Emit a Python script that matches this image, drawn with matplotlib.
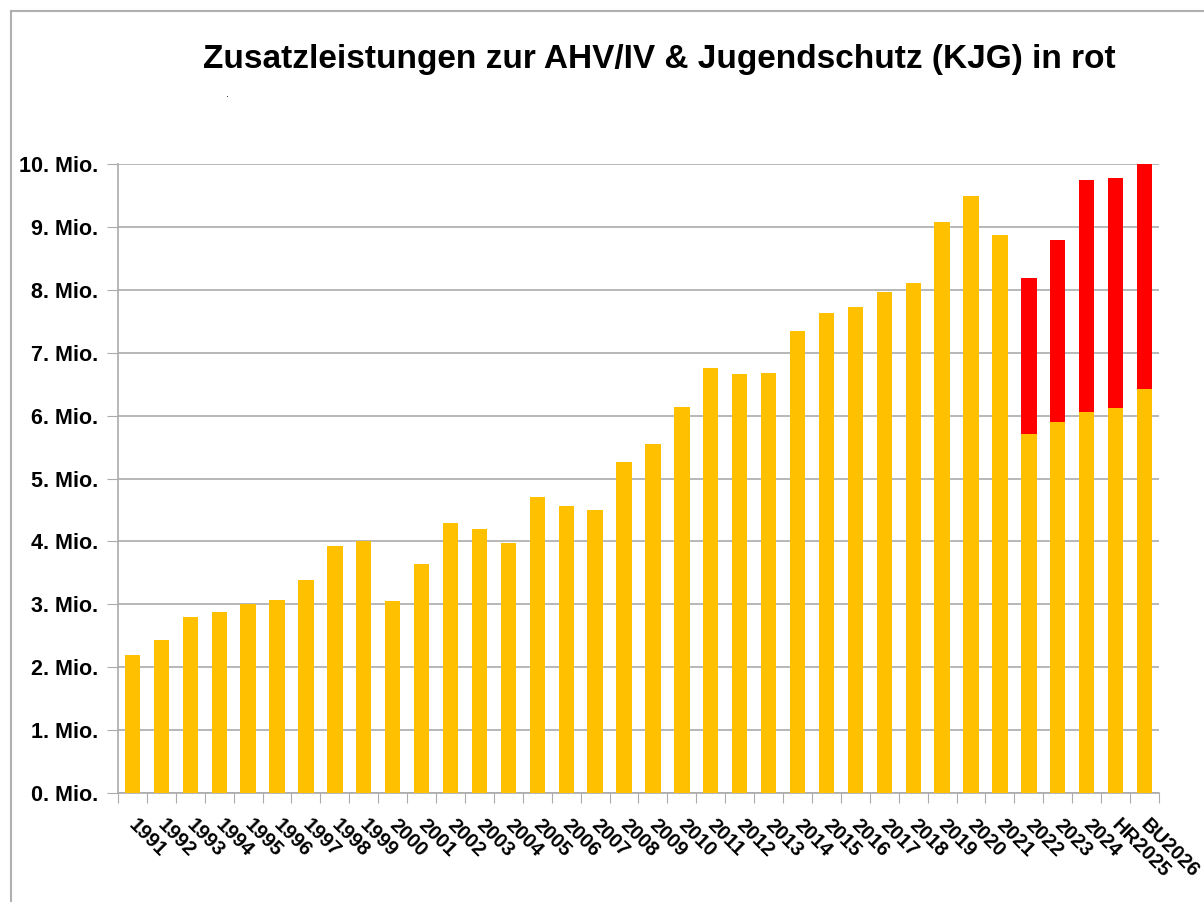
import matplotlib.pyplot as plt
from matplotlib.lines import Line2D
from matplotlib.transforms import ScaledTranslation

plt.rcParams["font.family"] = ["Liberation Sans", "DejaVu Sans"]

years = [str(y) for y in range(1991, 2025)] + ["HR2025", "BU2026"]
base = [2.19, 2.43, 2.80, 2.88, 3.00, 3.07, 3.39, 3.93, 4.01, 3.05,
        3.64, 4.29, 4.20, 3.97, 4.71, 4.56, 4.50, 5.26, 5.55, 6.14,
        6.76, 6.66, 6.68, 7.35, 7.63, 7.73, 7.97, 8.11, 9.08, 9.49,
        8.87, 5.71, 5.90, 6.06, 6.12, 6.42]
extra = [0] * 31 + [2.48, 2.89, 3.69, 3.66, 3.60]

ORANGE, RED = "#FFC000", "#FF0000"

fig = plt.figure(figsize=(12.04, 9.02), dpi=100)
ax = fig.add_axes([0.098, 0.1208, 0.8646, 0.6974])

x = list(range(len(years)))
ax.bar(x, base, width=0.53, color=ORANGE, zorder=3)
ax.bar(x, extra, bottom=base, width=0.53, color=RED, zorder=3)

ax.set_xlim(-0.5, len(years) - 0.5)
ax.set_ylim(0, 10)
ax.set_yticks(range(11))
ax.set_yticklabels([f"{i}. Mio." for i in range(11)], fontsize=15.5, fontweight="bold")
ax.yaxis.grid(True, color="#ABABAB", lw=1.2, zorder=0)
ax.tick_params(axis="y", length=8, color="#ABABAB", pad=6)

ax.set_xticks([i - 0.5 for i in range(len(years) + 1)])
ax.set_xticklabels([])
ax.set_xticks(x, minor=True)
ax.set_xticklabels(years, minor=True, rotation=-45, ha="left", va="top",
                   rotation_mode="anchor", fontsize=14.5, fontweight="bold")
ax.tick_params(axis="x", which="major", length=7, color="#ABABAB")
ax.tick_params(axis="x", which="minor", length=0, pad=16)
shift = ScaledTranslation(0.06, 0, fig.dpi_scale_trans)
for lbl in ax.get_xticklabels(minor=True):
    lbl.set_transform(lbl.get_transform() + shift)

for s in ["top", "right"]:
    ax.spines[s].set_visible(False)
for s in ["left", "bottom"]:
    ax.spines[s].set_color("#ABABAB")
    ax.spines[s].set_linewidth(1.2)

fig.text(0.548, 0.934, "Zusatzleistungen zur AHV/IV & Jugendschutz (KJG) in rot",
         ha="center", va="center", fontsize=24, fontweight="bold")
fig.text(0.189, 0.896, ".", fontsize=8, ha="center", va="center")

# outer frame
fig.add_artist(Line2D([0.009, 0.009], [0, 0.988], color="#B0B0B0", lw=1.5))
fig.add_artist(Line2D([0.009, 1], [0.988, 0.988], color="#B0B0B0", lw=1.5))

fig.savefig("out.png", dpi=100)
